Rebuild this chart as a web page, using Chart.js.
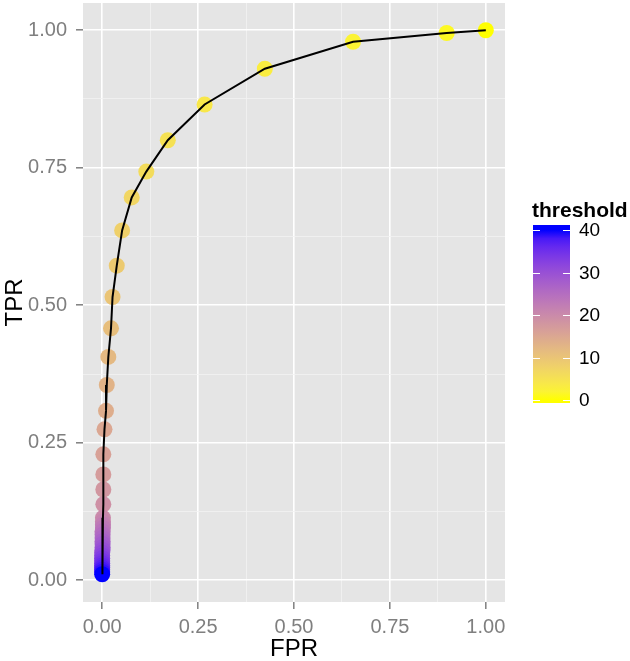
<!DOCTYPE html>
<html>
<head>
<meta charset="utf-8">
<script src="https://cdn.jsdelivr.net/npm/chart.js@4.4.1/dist/chart.umd.min.js"></script>
<style>
  html, body { margin: 0; padding: 0; background: #fff; }
  #wrap { width: 630px; height: 661px; }
</style>
</head>
<body>
<div id="wrap"><canvas id="rocChart" width="630" height="661"></canvas></div>
<script>
// ROC points, ordered by threshold 0..40
const fpr = [1.000, 0.898, 0.654, 0.424, 0.267, 0.171, 0.115, 0.077, 0.052, 0.038,
             0.027, 0.023, 0.016, 0.012, 0.010, 0.006, 0.003, 0.003, 0.003, 0.003,
             0.002, 0.002, 0.002, 0.002, 0.001, 0.001, 0.001, 0.001, 0.001, 0.001,
             0.001, 0.000, 0.000, 0.000, 0.000, 0.000, 0.000, 0.000, 0.000, 0.000, 0.000];
const tpr = [1.000, 0.995, 0.979, 0.930, 0.865, 0.800, 0.743, 0.696, 0.636, 0.572,
             0.515, 0.458, 0.406, 0.355, 0.308, 0.2745, 0.229, 0.1925, 0.165, 0.138,
             0.1135, 0.107, 0.101, 0.095, 0.089, 0.083, 0.077, 0.071, 0.066, 0.060,
             0.055, 0.050, 0.045, 0.040, 0.035, 0.031, 0.027, 0.023, 0.019, 0.015, 0.011];
const threshold = [0, 1, 2, 3, 4, 5, 6, 7, 8, 9, 10, 11, 12, 13, 14, 15, 16, 17, 18, 19, 20,
                   21, 22, 23, 24, 25, 26, 27, 28, 29, 30, 31, 32, 33, 34, 35, 36, 37, 38, 39, 40];
const axisTicks = [0, 0.25, 0.5, 0.75, 1];
const legendTicks = [0, 10, 20, 30, 40];

// major breaks plus the minor ones halfway between
const gridValues = [];
axisTicks.forEach((v, i) => {
  gridValues.push(v);
  if (i < axisTicks.length - 1) gridValues.push((v + axisTicks[i + 1]) / 2);
});
const isMajor = v => axisTicks.some(t => Math.abs(t - v) < 1e-9);

// yellow -> blue gradient interpolated in CIELAB, like ggplot
function toLab(hex) {
  const c = [1, 3, 5].map(i => parseInt(hex.substr(i, 2), 16) / 255)
    .map(v => v <= 0.04045 ? v / 12.92 : Math.pow((v + 0.055) / 1.055, 2.4));
  const x = (0.4124 * c[0] + 0.3576 * c[1] + 0.1805 * c[2]) / 0.95047;
  const y = 0.2126 * c[0] + 0.7152 * c[1] + 0.0722 * c[2];
  const z = (0.0193 * c[0] + 0.1192 * c[1] + 0.9505 * c[2]) / 1.08883;
  const f = t => t > 0.008856 ? Math.cbrt(t) : 7.787 * t + 16 / 116;
  return [116 * f(y) - 16, 500 * (f(x) - f(y)), 200 * (f(y) - f(z))];
}
function fromLab(lab) {
  const fy = (lab[0] + 16) / 116, fx = fy + lab[1] / 500, fz = fy - lab[2] / 200;
  const inv = t => t * t * t > 0.008856 ? t * t * t : (t - 16 / 116) / 7.787;
  const x = 0.95047 * inv(fx), y = inv(fy), z = 1.08883 * inv(fz);
  const lin = [3.2406 * x - 1.5372 * y - 0.4986 * z,
               -0.9689 * x + 1.8758 * y + 0.0415 * z,
               0.0557 * x - 0.2040 * y + 1.0570 * z];
  const rgb = lin.map(v => {
    v = Math.min(1, Math.max(0, v));
    return Math.round(255 * (v <= 0.0031308 ? 12.92 * v : 1.055 * Math.pow(v, 1 / 2.4) - 0.055));
  });
  return 'rgb(' + rgb.join(',') + ')';
}
const lowLab = toLab('#FFFF00'), highLab = toLab('#0000FF');
function thresholdColour(v) {
  const t = v / 40;
  return fromLab(lowLab.map((l, i) => l + (highLab[i] - l) * t));
}

const points = fpr.map((x, i) => ({ x: x, y: tpr[i] }));

const panelBackground = {
  id: 'panelBackground',
  beforeDraw(chart) {
    const { ctx, chartArea: a } = chart;
    ctx.save();
    ctx.fillStyle = '#fff';
    ctx.fillRect(0, 0, chart.width, chart.height);
    ctx.fillStyle = '#E5E5E5';
    ctx.fillRect(a.left, a.top, a.right - a.left, a.bottom - a.top);
    ctx.restore();
  }
};

const colourbar = {
  id: 'colourbar',
  afterDraw(chart) {
    const ctx = chart.ctx;
    const x0 = 533, w = 37, top = 225, bottom = 403;
    const yOf = v => 400 - v * 4.25;
    ctx.save();
    ctx.fillStyle = '#000';
    ctx.font = 'bold 21px "Liberation Sans", Arial, sans-serif';
    ctx.textBaseline = 'alphabetic';
    ctx.textAlign = 'left';
    ctx.fillText('threshold', 532, 217);

    const grad = ctx.createLinearGradient(0, yOf(0), 0, yOf(40));
    for (let v = 0; v <= 40; v += 2) grad.addColorStop(v / 40, thresholdColour(v));
    ctx.fillStyle = grad;
    ctx.fillRect(x0, top, w, bottom - top);

    ctx.strokeStyle = '#fff';
    ctx.lineWidth = 1;
    ctx.fillStyle = '#000';
    ctx.font = '19px "Liberation Sans", Arial, sans-serif';
    ctx.textBaseline = 'middle';
    legendTicks.forEach(v => {
      const y = Math.round(yOf(v)) + 0.5;
      ctx.beginPath();
      ctx.moveTo(x0, y); ctx.lineTo(x0 + 7, y);
      ctx.moveTo(x0 + w - 7, y); ctx.lineTo(x0 + w, y);
      ctx.stroke();
      ctx.fillText(String(v), 579, yOf(v) + 1);
    });
    ctx.restore();
  }
};

Chart.defaults.font.family = '"Liberation Sans", Arial, Helvetica, sans-serif';

function axisOptions(title, extent, fit, titlePadding, labelPadding) {
  return {
    type: 'linear',
    min: extent[0],
    max: extent[1],
    afterBuildTicks: s => { s.ticks = gridValues.map(v => ({ value: v })); },
    afterFit: fit,
    ticks: {
      autoSkip: false,
      maxRotation: 0,
      padding: labelPadding,
      color: '#7F7F7F',
      font: { size: 20 },
      callback: v => isMajor(v) ? v.toFixed(2) : ''
    },
    grid: {
      color: c => isMajor(c.tick.value) ? '#FFFFFF' : '#F2F2F2',
      lineWidth: c => isMajor(c.tick.value) ? 1.6 : 0.8,
      tickLength: 7,
      tickColor: c => isMajor(c.tick.value) ? '#7F7F7F' : 'rgba(0,0,0,0)',
      tickWidth: 1.5
    },
    border: { display: false },
    title: {
      display: true,
      text: title,
      color: '#000',
      font: { size: 24, lineHeight: 1 },
      padding: titlePadding
    }
  };
}

// fixed axis boxes, no extra padding for overhanging labels
const fitX = s => { s.height = 59; s.paddingLeft = 0; s.paddingRight = 0; };
const fitY = s => { s.width = 83; s.paddingTop = 0; s.paddingBottom = 0; };

new Chart(document.getElementById('rocChart').getContext('2d'), {
  type: 'scatter',
  data: {
    datasets: [
      {
        label: 'curve',
        data: points,
        showLine: true,
        borderColor: '#000',
        borderWidth: 2,
        pointRadius: 0,
        order: 0
      },
      {
        label: 'threshold',
        data: points,
        pointRadius: 8,
        pointBorderWidth: 0,
        pointBackgroundColor: threshold.map(thresholdColour),
        order: 1
      }
    ]
  },
  options: {
    responsive: false,
    animation: false,
    devicePixelRatio: 1,
    events: [],
    layout: { autoPadding: false, padding: { top: 3, right: 125, left: 0, bottom: 0 } },
    plugins: {
      legend: { display: false },
      tooltip: { enabled: false }
    },
    scales: {
      x: axisOptions('FPR', [-0.05, 1.05], fitX, { top: 0, bottom: 0 }, 6),
      y: axisOptions('TPR', [-0.0395, 1.0495], fitY, { top: 3, bottom: 0 }, 9)
    }
  },
  plugins: [panelBackground, colourbar]
});
</script>
</body>
</html>
